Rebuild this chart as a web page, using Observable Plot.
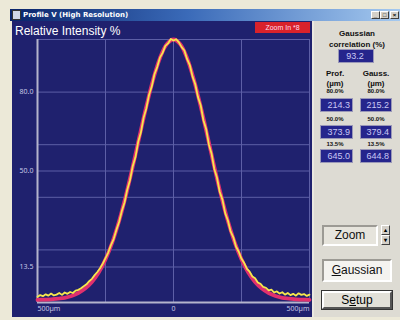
<!DOCTYPE html>
<html><head><meta charset="utf-8">
<script src="https://cdn.jsdelivr.net/npm/d3@7"></script>
<script src="https://cdn.jsdelivr.net/npm/@observablehq/plot@0.6"></script>
<style>
body{margin:0;width:400px;height:320px;overflow:hidden;background:#ece9d8;font-family:"Liberation Sans",Arial,sans-serif;}
#root{position:relative;width:400px;height:320px;overflow:hidden;}
.a{position:absolute;box-sizing:border-box;}
#titlebar{left:10px;top:9px;width:392px;height:12px;background:linear-gradient(90deg,#0a246a 0%,#3a6ab8 45%,#a6caf0 100%);color:#fff;font:bold 7px "DejaVu Sans",sans-serif;line-height:12px;padding-left:13px;}
#icon{left:12px;top:10px;width:9px;height:10px;background:#cfd6e6;border:1px solid #333;}
.wbtn{top:11px;width:9px;height:8px;background:#d4d0c8;border:1px solid #fff;border-right-color:#404040;border-bottom-color:#404040;font:bold 6px sans-serif;text-align:center;line-height:7px;color:#000;}
#blue{left:12px;top:21px;width:300px;height:296px;background:#1f216e;}
#panel{left:312px;top:21px;width:88px;height:296px;background:#dddbd3;border-left:2px solid #eae8e0;}
#ylabel{left:15px;top:24px;color:#fff;font-size:12px;}
#zoomin{left:255px;top:22px;width:55px;height:11px;background:#d9222b;color:#fde;font-size:7px;line-height:11px;text-align:center;}
.pt{color:#111;font:bold 8px "Liberation Sans",Arial,sans-serif;text-align:center;}
.vb{background:#25258c;border:1px solid #9a98b8;color:#c9c8f4;font-size:9px;text-align:right;padding-right:2px;line-height:12px;}
.ctl{border:2px solid #9c9a94;border-right-color:#fff;border-bottom-color:#fff;font-size:12px;color:#111;text-align:center;}
#plot{left:0;top:0;}
</style></head><body><div id="root">
<div class="a" id="titlebar">Profile V  (High Resolution)</div>
<div class="a" id="icon"></div>
<div class="a wbtn" style="left:371px">_</div>
<div class="a wbtn" style="left:380px">□</div>
<div class="a wbtn" style="left:390px">×</div>
<div class="a" id="blue"></div>
<div class="a" id="panel"></div>
<div class="a" id="ylabel">Relative Intensity %</div>
<div class="a" id="zoomin">Zoom In *8</div>
<div class="a pt" style="left:316px;top:28px;width:82px;line-height:11px">Gaussian<br>correlation (%)</div>
<div class="a vb" style="left:338px;top:49px;width:36px;height:14px;text-align:center">93.2</div>
<div class="a pt" style="left:318px;top:69px;width:34px;line-height:10px">Prof.<br>(µm)</div>
<div class="a pt" style="left:358px;top:69px;width:36px;line-height:10px">Gauss.<br>(µm)</div>
<div class="a pt" style="left:318px;top:88px;width:34px;font-size:6px">80.0%</div>
<div class="a pt" style="left:358px;top:88px;width:36px;font-size:6px">80.0%</div>
<div class="a vb" style="left:320px;top:98px;width:33px;height:14px">214.3</div>
<div class="a vb" style="left:360px;top:98px;width:32px;height:14px">215.2</div>
<div class="a pt" style="left:318px;top:116px;width:34px;font-size:6px">50.0%</div>
<div class="a pt" style="left:358px;top:116px;width:36px;font-size:6px">50.0%</div>
<div class="a vb" style="left:320px;top:125px;width:33px;height:14px">373.9</div>
<div class="a vb" style="left:360px;top:125px;width:32px;height:14px">379.4</div>
<div class="a pt" style="left:318px;top:141px;width:34px;font-size:6px">13.5%</div>
<div class="a pt" style="left:358px;top:141px;width:36px;font-size:6px">13.5%</div>
<div class="a vb" style="left:320px;top:149px;width:33px;height:14px">645.0</div>
<div class="a vb" style="left:360px;top:149px;width:32px;height:14px">644.8</div>
<div class="a ctl" style="left:322px;top:225px;width:56px;height:21px;line-height:17px;background:#e6e4dc">Zoom</div>
<div class="a wbtn" style="left:381px;top:225px;width:9px;height:10px;line-height:9px">▴</div>
<div class="a wbtn" style="left:381px;top:235px;width:9px;height:10px;line-height:9px">▾</div>
<div class="a ctl" style="left:322px;top:259px;width:70px;height:23px;line-height:19px;background:#f4f3ef"><u>G</u>aussian</div>
<div class="a" style="left:322px;top:291px;width:70px;height:18px;line-height:14px;font-size:12px;text-align:center;background:#e2e0d8;border:2px solid #555;border-top-color:#fff;border-left-color:#fff;outline:1px solid #333">S<u>e</u>tup</div>
<div class="a" id="plot"></div>
</div>
<script>
const xTicks = [-500, 0, 500];
const xTickLabels = ["500µm", "0", "500µm"];
const yTicks = [80, 50, 13.5];
const yGrid = [100, 80, 60, 50, 40, 20, 13.5];
const xGrid = [-250, 0, 250, 500];

const profX = [-500,-490,-480,-470,-460,-450,-440,-430,-420,-410,-400,-390,-380,-370,-360,-350,-340,-330,-320,-310,-300,-290,-280,-270,-260,-250,-240,-230,-220,-210,-200,-190,-180,-170,-160,-150,-140,-130,-120,-110,-100,-90,-80,-70,-60,-50,-40,-30,-20,-10,0,10,20,30,40,50,60,70,80,90,100,110,120,130,140,150,160,170,180,190,200,210,220,230,240,250,260,270,280,290,300,310,320,330,340,350,360,370,380,390,400,410,420,430,440,450,460,470,480,490,500];
const profY = [2.2,2.8,2.4,3.1,2.6,3.4,2.7,3.0,3.6,2.9,3.8,3.3,4.0,3.6,4.5,4.8,5.4,6.2,6.9,8.1,9.0,10.4,11.6,13.0,14.8,16.9,19.0,21.8,24.1,27.6,30.6,34.8,38.0,42.9,46.5,51.8,55.2,61.0,64.6,70.2,73.8,78.9,82.1,86.8,89.5,93.1,94.9,97.6,98.5,100.2,99.6,100.1,98.9,97.1,95.8,92.5,90.3,85.9,83.0,78.1,75.0,69.3,66.0,60.1,56.6,50.8,47.4,42.0,39.1,34.0,31.2,27.0,24.8,21.2,19.3,16.6,15.0,12.8,11.7,9.9,9.2,7.6,7.1,5.9,5.6,4.6,4.9,3.8,4.2,3.4,3.9,3.0,3.6,2.8,3.3,2.6,3.5,2.9,3.2,2.5,3.0];

const fitX = [-500,-475,-450,-425,-400,-375,-350,-325,-300,-275,-250,-225,-200,-175,-150,-125,-100,-75,-50,-25,0,25,50,75,100,125,150,175,200,225,250,275,300,325,350,375,400,425,450,475,500];
const fitY = [1.0,1.1,1.2,1.5,1.8,2.5,3.6,5.3,7.8,11.4,16.4,22.9,31.0,40.7,51.6,63.2,74.5,84.7,92.9,98.2,100,98.2,92.9,84.7,74.5,63.2,51.6,40.7,31.0,22.9,16.4,11.4,7.8,5.3,3.6,2.5,1.8,1.5,1.2,1.1,1.0];

const profile = profX.map((x, i) => ({x, y: profY[i]}));
const fit = fitX.map((x, i) => ({x, y: fitY[i]}));
const xLab = xTicks.map((x, i) => ({x, t: xTickLabels[i]}));

const gridCol = "#5d5fa6";
const axisCol = "#b4b4cc";
const labCol = "#c8c8e6";

const chart = Plot.plot({
  width: 400, height: 320,
  marginLeft: 37, marginRight: 91, marginTop: 39, marginBottom: 18,
  x: {domain: [-500, 500], axis: null},
  y: {domain: [0, 100], axis: null},
  style: {background: "transparent", overflow: "visible"},
  marks: [
    Plot.ruleY(yGrid, {stroke: gridCol, strokeWidth: 1}),
    Plot.ruleX(xGrid, {stroke: gridCol, strokeWidth: 1}),
    Plot.ruleX([-500], {stroke: axisCol, strokeWidth: 2}),
    Plot.ruleY([0], {stroke: axisCol, strokeWidth: 2}),
    Plot.line(fit, {x: "x", y: "y", stroke: "#e0306e", strokeWidth: 3.8, curve: "catmull-rom"}),
    Plot.line(profile, {x: "x", y: "y", stroke: "#f6e84c", strokeWidth: 1.8}),
    Plot.text(yTicks, {x: -500, y: d => d, text: d => d.toFixed(1), textAnchor: "end", dx: -4, fill: labCol, fontSize: 7}),
    Plot.text(xLab.slice(0, 1), {x: "x", y: 0, text: "t", textAnchor: "start", dy: 6, fill: labCol, fontSize: 7}),
    Plot.text(xLab.slice(1, 2), {x: "x", y: 0, text: "t", textAnchor: "middle", dy: 6, fill: labCol, fontSize: 7}),
    Plot.text(xLab.slice(2, 3), {x: "x", y: 0, text: "t", textAnchor: "end", dy: 6, fill: labCol, fontSize: 7})
  ]
});
document.getElementById("plot").appendChild(chart);
</script>
</body></html>
